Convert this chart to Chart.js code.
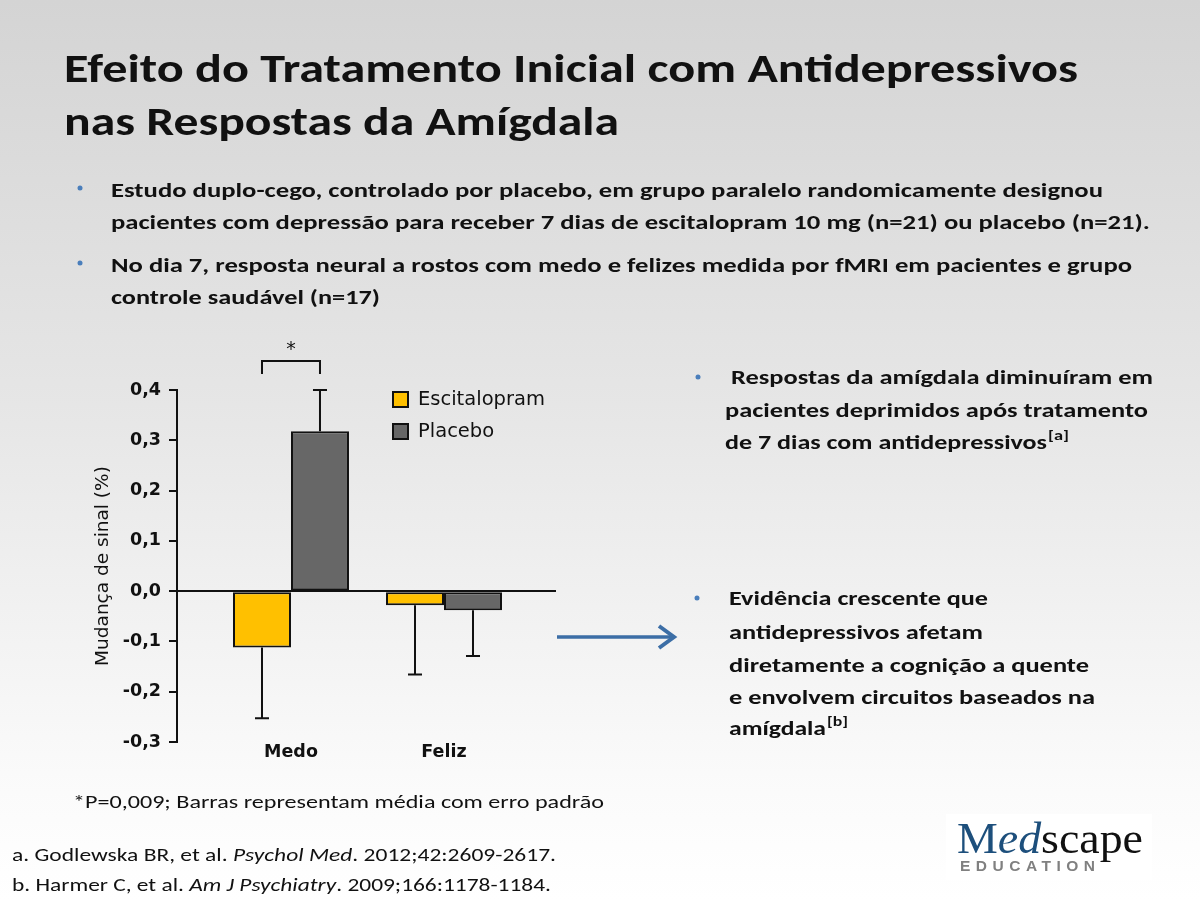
<!DOCTYPE html>
<html>
<head>
<meta charset="utf-8">
<script src="https://cdn.jsdelivr.net/npm/chart.js@4/dist/chart.umd.min.js"></script>
<style>
  body { margin: 0; width: 1200px; height: 900px; overflow: hidden;
         background: linear-gradient(to bottom, #d4d4d4 0%, #e6e6e6 45%, #fbfbfb 88%, #ffffff 100%);
         font-family: Carlito, Lato, sans-serif; }
  #chart { position: absolute; left: 60px; top: 330px; }
  #slide { position: absolute; left: 0; top: 0; }
  .t { fill: #111; font-family: Carlito, Lato, sans-serif; }
  .b { font-weight: bold; }
</style>
</head>
<body>
<canvas id="chart" width="520" height="460"></canvas>
<svg id="slide" width="1200" height="900">
  <text class="t b" x="64" y="82" font-size="40" textLength="1014" lengthAdjust="spacingAndGlyphs">Efeito do Tratamento Inicial com Antidepressivos</text>
  <text class="t b" x="64" y="135" font-size="40" textLength="555" lengthAdjust="spacingAndGlyphs">nas Respostas da Amígdala</text>

  <circle cx="80" cy="188" r="2.5" fill="#4a7ebb"/>
  <text class="t b" x="111" y="197" font-size="21" textLength="992" lengthAdjust="spacingAndGlyphs">Estudo duplo-cego, controlado por placebo, em grupo paralelo randomicamente designou</text>
  <text class="t b" x="111" y="229" font-size="21" textLength="1039" lengthAdjust="spacingAndGlyphs">pacientes com depressão para receber 7 dias de escitalopram 10 mg (n=21) ou placebo (n=21).</text>
  <circle cx="80" cy="263" r="2.5" fill="#4a7ebb"/>
  <text class="t b" x="111" y="272" font-size="21" textLength="1021" lengthAdjust="spacingAndGlyphs">No dia 7, resposta neural a rostos com medo e felizes medida por fMRI em pacientes e grupo</text>
  <text class="t b" x="111" y="304" font-size="21" textLength="269" lengthAdjust="spacingAndGlyphs">controle saudável (n=17)</text>

  <circle cx="698" cy="377" r="2.5" fill="#4a7ebb"/>
  <text class="t b" x="731" y="384" font-size="21" textLength="422" lengthAdjust="spacingAndGlyphs">Respostas da amígdala diminuíram em</text>
  <text class="t b" x="725" y="417" font-size="21" textLength="423" lengthAdjust="spacingAndGlyphs">pacientes deprimidos após tratamento</text>
  <text class="t b" x="725" y="449" font-size="21" textLength="322" lengthAdjust="spacingAndGlyphs">de 7 dias com antidepressivos</text>
  <text class="t b" x="1048" y="440" font-size="13" textLength="21" lengthAdjust="spacingAndGlyphs">[a]</text>

  <circle cx="697" cy="598" r="2.5" fill="#4a7ebb"/>
  <text class="t b" x="729" y="605" font-size="21" textLength="259" lengthAdjust="spacingAndGlyphs">Evidência crescente que</text>
  <text class="t b" x="729" y="639" font-size="21" textLength="254" lengthAdjust="spacingAndGlyphs">antidepressivos afetam</text>
  <text class="t b" x="729" y="672" font-size="21" textLength="360" lengthAdjust="spacingAndGlyphs">diretamente a cognição a quente</text>
  <text class="t b" x="729" y="704" font-size="21" textLength="366" lengthAdjust="spacingAndGlyphs">e envolvem circuitos baseados na</text>
  <text class="t b" x="729" y="735" font-size="21" textLength="97" lengthAdjust="spacingAndGlyphs">amígdala</text>
  <text class="t b" x="827" y="726" font-size="13" textLength="21" lengthAdjust="spacingAndGlyphs">[b]</text>

  <line x1="557" y1="637" x2="672" y2="637" stroke="#3c6ea6" stroke-width="3.5"/>
  <polyline points="659,626 674,637 659,648" fill="none" stroke="#3c6ea6" stroke-width="4"/>

  <text class="t" x="73" y="808" font-size="19" textLength="531" lengthAdjust="spacingAndGlyphs">*P=0,009; Barras representam média com erro padrão</text>
  <text class="t" x="12" y="861" font-size="19" textLength="544" lengthAdjust="spacingAndGlyphs">a. Godlewska BR, et al. <tspan font-style="italic">Psychol Med</tspan>. 2012;42:2609-2617.</text>
  <text class="t" x="12" y="891" font-size="19" textLength="539" lengthAdjust="spacingAndGlyphs">b. Harmer C, et al. <tspan font-style="italic">Am J Psychiatry</tspan>. 2009;166:1178-1184.</text>

  <rect x="946" y="814" width="206" height="66" fill="#ffffff"/>
  <text x="957" y="853" font-size="44" font-family="'Liberation Serif', 'DejaVu Serif', serif" textLength="186" lengthAdjust="spacingAndGlyphs"><tspan fill="#1d4f7c">M</tspan><tspan fill="#1d4f7c" font-style="italic">ed</tspan><tspan fill="#111">scape</tspan></text>
  <text x="960" y="871" font-size="15.5" font-weight="bold" font-family="'Liberation Sans', Arial, sans-serif" fill="#808080" textLength="135" lengthAdjust="spacing">EDUCATION</text>
</svg>
<script>
// categories sit at fixed slots on a linear x axis so the pair of bars can be off-centre like the original
const categories = ['Medo', 'Feliz'];
const categorySlots = [1, 2];
const seriesNames = ['Escitalopram', 'Placebo'];
const escitalopram = [-0.112, -0.028];
const escitalopramErr = [0.141, 0.138];
const placebo = [0.318, -0.038];
const placeboErr = [0.082, 0.091];
const yMin = -0.3, yMax = 0.4, yStep = 0.1;

const FONT = "'DejaVu Sans', sans-serif";
Chart.defaults.font.family = FONT;
Chart.defaults.color = '#111';

function points(vals) {
    return vals.map((v, i) => ({ x: categorySlots[i], y: v }));
}
function comma(v) {
    if (Math.abs(v) < 1e-9) v = 0;
    return v.toFixed(1).replace('.', ',');
}

const errorBars = {
    id: 'errorBars',
    afterDatasetsDraw(chart) {
        const ctx = chart.ctx, ys = chart.scales.y;
        chart.data.datasets.forEach((ds, i) => {
            chart.getDatasetMeta(i).data.forEach((bar, j) => {
                const v = ds.data[j].y;
                const end = ys.getPixelForValue(v + (v >= 0 ? ds.errors[j] : -ds.errors[j]));
                ctx.save();
                ctx.strokeStyle = '#111';
                ctx.lineWidth = 2;
                ctx.beginPath();
                ctx.moveTo(bar.x, bar.y);
                ctx.lineTo(bar.x, end);
                ctx.moveTo(bar.x - 7, end);
                ctx.lineTo(bar.x + 7, end);
                ctx.stroke();
                ctx.restore();
            });
        });
    }
};

// bracket + star over the Medo pair
const significance = {
    id: 'significance',
    afterDraw(chart) {
        const ctx = chart.ctx, a = chart.chartArea;
        const x1 = chart.getDatasetMeta(0).data[0].x;
        const x2 = chart.getDatasetMeta(1).data[0].x;
        const top = a.top - 29;
        ctx.save();
        ctx.strokeStyle = '#111';
        ctx.lineWidth = 2;
        ctx.beginPath();
        ctx.moveTo(x1, top + 13);
        ctx.lineTo(x1, top);
        ctx.lineTo(x2, top);
        ctx.lineTo(x2, top + 13);
        ctx.stroke();
        ctx.fillStyle = '#111';
        ctx.font = '19px ' + FONT;
        ctx.textAlign = 'center';
        ctx.textBaseline = 'middle';
        ctx.fillText('*', (x1 + x2) / 2, top - 11);
        ctx.restore();
    }
};

const boxLegend = {
    id: 'boxLegend',
    afterDraw(chart) {
        const ctx = chart.ctx, a = chart.chartArea;
        chart.data.datasets.forEach((ds, i) => {
            const x = a.left + 216, y = a.top + 2 + i * 32;
            ctx.save();
            ctx.fillStyle = ds.backgroundColor;
            ctx.fillRect(x, y, 15, 15);
            ctx.strokeStyle = '#111';
            ctx.lineWidth = 2;
            ctx.strokeRect(x, y, 15, 15);
            ctx.fillStyle = '#111';
            ctx.font = '19.5px ' + FONT;
            ctx.textBaseline = 'middle';
            ctx.fillText(ds.label, x + 25, y + 8);
            ctx.restore();
        });
    }
};

new Chart(document.getElementById('chart'), {
    type: 'bar',
    data: {
        datasets: [{
            label: seriesNames[0],
            data: points(escitalopram),
            errors: escitalopramErr,
            backgroundColor: '#ffc000',
            borderColor: '#111',
            borderWidth: 2,
            borderSkipped: false
        }, {
            label: seriesNames[1],
            data: points(placebo),
            errors: placeboErr,
            backgroundColor: '#676767',
            borderColor: '#111',
            borderWidth: 2,
            borderSkipped: false
        }]
    },
    options: {
        responsive: false,
        animation: false,
        barPercentage: 1,
        categoryPercentage: 0.758,
        layout: { padding: { left: 32, right: 24, top: 60, bottom: 8 } },
        plugins: { legend: { display: false }, tooltip: { enabled: false } },
        scales: {
            x: {
                type: 'linear',
                offset: false,
                min: 0.255,
                max: 2.732,
                afterBuildTicks: s => { s.ticks = categorySlots.map(v => ({ value: v })); },
                afterFit: s => { s.height = 40; },
                grid: { display: false, drawTicks: false, offset: false },
                border: { display: false },
                ticks: {
                    padding: 0,
                    maxRotation: 0,
                    font: { size: 17.5, weight: 'bold' },
                    callback: (v, i) => categories[i]
                }
            },
            y: {
                min: yMin,
                max: yMax,
                afterFit: s => { s.width = 85; },
                border: { color: '#111', width: 2 },
                grid: {
                    lineWidth: 2,
                    tickLength: 8,
                    tickColor: '#111',
                    color: c => (c.tick && Math.abs(c.tick.value) < 1e-9) ? '#111' : 'rgba(0,0,0,0)'
                },
                ticks: {
                    stepSize: yStep,
                    padding: 8,
                    font: { size: 17.5, weight: 'bold' },
                    callback: v => comma(v)
                },
                title: {
                    display: true,
                    text: 'Mudança de sinal (%)',
                    font: { size: 18.5 },
                    padding: { top: 0, bottom: 4 }
                }
            }
        }
    },
    plugins: [errorBars, significance, boxLegend]
});
</script>
</body>
</html>
